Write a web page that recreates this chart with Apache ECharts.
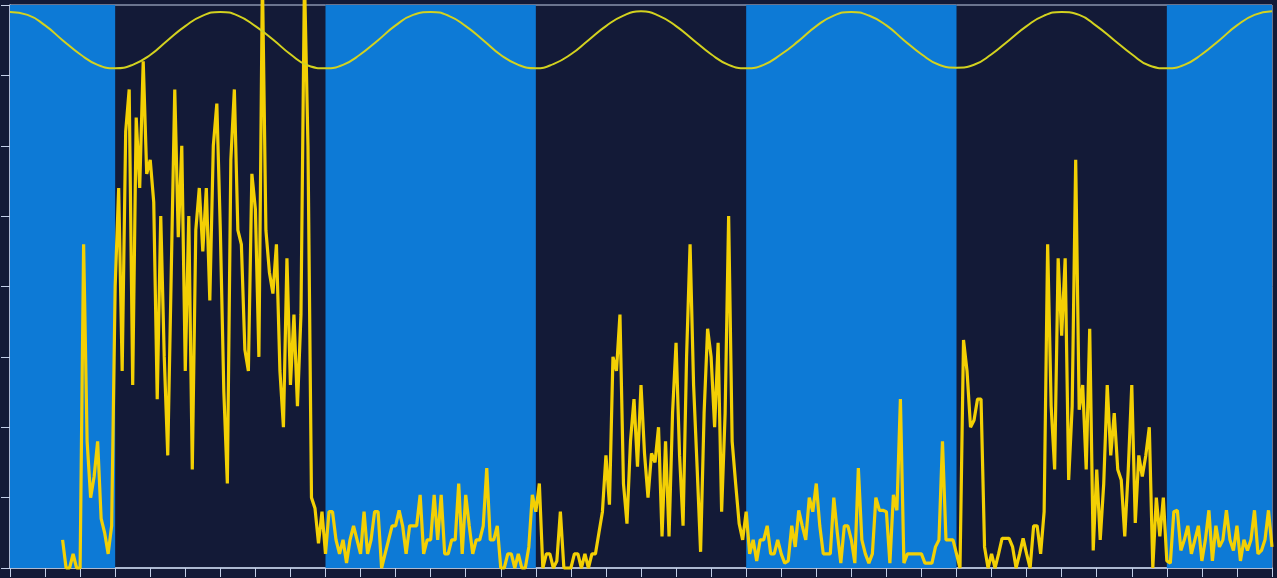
<!DOCTYPE html>
<html>
<head>
<meta charset="utf-8">
<script src="https://cdn.jsdelivr.net/npm/echarts@6/dist/echarts.min.js"></script>
<style>
  html, body { margin: 0; padding: 0; background: #131a37; }
  #chart { width: 1277px; height: 578px; }
</style>
</head>
<body>
<div id="chart"></div>
<script>
// Activity record, one sample every 0.2 h from hour 0 to hour 72 (null = no reading)
const sampleStep = 0.2;
const activity = [
  null,null,null,null,null,null,null,null,null,null,
  null,null,null,null,null,0.4,0,0,0.2,0,
  0,4.6,1.8,1.0,1.3,1.8,0.7,0.5,0.2,0.6,
  4.0,5.4,2.8,6.2,6.8,2.6,6.4,5.4,7.2,5.6,
  5.8,5.2,2.4,5.0,3.0,1.6,4.2,6.8,4.7,6.0,
  2.8,5.0,1.4,4.8,5.4,4.5,5.4,3.8,6.0,6.6,
  4.8,2.5,1.2,5.8,6.8,4.8,4.6,3.1,2.8,5.6,
  5.1,3.0,8.4,4.8,4.2,3.9,4.6,2.8,2.0,4.4,
  2.6,3.6,2.3,3.6,8.4,6.0,1.0,0.85,0.35,0.8,
  0.2,0.8,0.8,0.4,0.2,0.4,0.07,0.4,0.6,0.4,
  0.2,0.8,0.2,0.4,0.8,0.8,0,0.2,0.4,0.6,
  0.6,0.82,0.6,0.2,0.6,0.6,0.6,1.04,0.2,0.4,
  0.4,1.04,0.4,1.04,0.2,0.2,0.4,0.4,1.2,0.2,
  1.04,0.6,0.2,0.4,0.4,0.6,1.42,0.4,0.4,0.6,
  0,0,0.2,0.2,0,0.2,0,0,0.3,1.04,
  0.8,1.2,0,0.2,0.2,0,0.1,0.8,0,0,
  0,0.2,0.2,0,0.2,0,0.2,0.2,0.5,0.8,
  1.6,0.9,3.0,2.8,3.6,1.2,0.63,1.8,2.4,1.44,
  2.6,1.63,1.0,1.63,1.5,2.0,0.45,1.8,0.45,2.2,
  3.2,1.6,0.6,3.0,4.6,2.6,1.44,0.23,2.2,3.4,
  3.0,2.0,3.2,0.8,2.2,5.0,1.8,1.2,0.63,0.4,
  0.8,0.2,0.4,0.1,0.4,0.4,0.6,0.2,0.2,0.4,
  0.2,0.07,0.1,0.6,0.3,0.82,0.6,0.4,1.0,0.8,
  1.2,0.6,0.2,0.2,0.2,1.0,0.5,0.07,0.6,0.6,
  0.4,0.07,1.42,0.4,0.2,0.07,0.2,1.0,0.82,0.82,
  0.8,0.07,1.04,0.82,2.4,0.07,0.2,0.2,0.2,0.2,
  0.2,0.07,0.07,0.07,0.3,0.4,1.8,0.4,0.4,0.4,
  0.2,0,3.24,2.8,2.0,2.1,2.4,2.4,0.3,0,
  0.2,0,0.2,0.42,0.42,0.42,0.3,0,0.2,0.42,
  0.2,0,0.6,0.6,0.2,0.8,4.6,2.3,1.4,4.4,
  3.3,4.4,1.25,2.3,5.8,2.25,2.6,1.4,3.4,0.25,
  1.4,0.4,1.2,2.6,1.6,2.2,1.4,1.25,0.45,1.4,
  2.6,0.64,1.6,1.3,1.6,2.0,0,1.0,0.45,1.0,
  0.1,0.07,0.8,0.82,0.25,0.4,0.6,0.2,0.4,0.6,
  0.1,0.4,0.82,0.1,0.6,0.3,0.4,0.82,0.4,0.25,
  0.6,0.1,0.4,0.25,0.4,0.82,0.2,0.25,0.4,0.82,0.3
];

// Tide level, one reading per hour from hour 0 to hour 72
const tideStep = 1;
const tideLevel = [
  7.90,7.86,7.71,7.50,7.30,7.15,7.10,7.15,7.29,7.50,7.70,7.85,
  7.90,7.85,7.70,7.51,7.30,7.14,7.10,7.15,7.30,7.50,7.71,7.86,
  7.90,7.85,7.70,7.50,7.29,7.15,7.10,7.16,7.30,7.50,7.70,7.85,
  7.91,7.85,7.70,7.50,7.30,7.15,7.10,7.15,7.30,7.49,7.70,7.85,
  7.90,7.85,7.71,7.50,7.30,7.15,7.11,7.15,7.30,7.50,7.70,7.85,
  7.90,7.86,7.70,7.50,7.30,7.14,7.10,7.15,7.30,7.50,7.71,7.86,
  7.91
];

// Light phases (hours); the remaining stretches are dark
const lightPeriods = [[0, 6], [18, 30], [42, 54], [66, 72]];

const hourAxis = { min: 0, max: 72, interval: 2 };
const levelAxis = { min: 0, max: 8, interval: 1 };

const frameColor = '#c3cfe8';
const lightColor = '#0d7ad6';
const darkColor = '#131a37';

const activityData = activity.map((v, i) => [+(i * sampleStep).toFixed(2), v]);
const tideData = tideLevel.map((v, i) => [i * tideStep, v]);

const axisCommon = {
  type: 'value',
  axisLine: { show: true, onZero: false, lineStyle: { color: frameColor, width: 1.5 } },
  axisTick: { show: true, length: 9, lineStyle: { color: frameColor, width: 1 } },
  axisLabel: { show: false },
  splitLine: { show: false }
};

const chart = echarts.init(document.getElementById('chart'), null, { renderer: 'canvas' });
chart.setOption({
  animation: false,
  backgroundColor: darkColor,
  grid: {
    left: 10, right: 5, top: 5, bottom: 10,
    show: true,
    backgroundColor: darkColor,
    borderColor: frameColor,
    borderWidth: 1
  },
  xAxis: Object.assign({}, axisCommon, hourAxis),
  yAxis: Object.assign({}, axisCommon, levelAxis),
  series: [
    {
      name: 'light',
      type: 'line',
      data: [],
      z: 1,
      silent: true,
      markArea: {
        silent: true,
        itemStyle: { color: lightColor },
        data: lightPeriods.map(p => [{ xAxis: p[0] }, { xAxis: p[1] }])
      }
    },
    {
      name: 'activity',
      type: 'line',
      data: activityData,
      z: 3,
      showSymbol: false,
      connectNulls: false,
      clip: false,
      lineStyle: { color: '#f3d004', width: 3.2 }
    },
    {
      name: 'tide',
      type: 'line',
      data: tideData,
      z: 4,
      smooth: 0.5,
      showSymbol: false,
      lineStyle: { color: '#d3d21f', width: 2 }
    }
  ]
});
</script>
</body>
</html>
